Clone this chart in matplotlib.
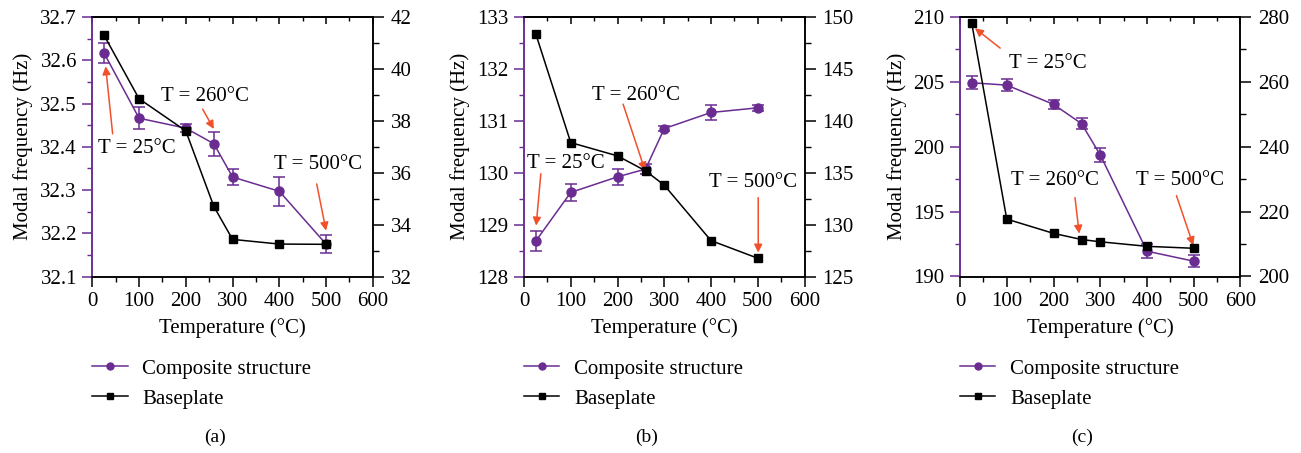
import matplotlib
matplotlib.use("Agg")
import matplotlib.pyplot as plt
from matplotlib.ticker import MultipleLocator, FormatStrFormatter
from matplotlib.lines import Line2D
import numpy as np

plt.rcParams['font.family'] = ['Liberation Serif', 'DejaVu Serif']
FS = 15
plt.rcParams['font.size'] = FS

temps = [25, 100, 200, 260, 300, 400, 500]

# Panel (a)
comp_a = [32.617, 32.466, 32.443, 32.407, 32.330, 32.297, 32.175]
comp_a_err = [0.024, 0.025, 0.010, 0.028, 0.018, 0.033, 0.021]
base_a = [41.30, 38.85, 37.61, 34.70, 33.43, 33.25, 33.24]

# Panel (b)
comp_b = [128.68, 129.62, 129.92, 130.07, 130.85, 131.16, 131.25]
comp_b_err = [0.19, 0.17, 0.15, 0.10, 0.05, 0.15, 0.06]
base_b = [148.4, 137.9, 136.62, 135.18, 133.8, 128.46, 126.76]

# Panel (c)
comp_c = [204.93, 204.75, 203.27, 201.78, 199.37, 191.95, 191.18]
comp_c_err = [0.50, 0.45, 0.36, 0.42, 0.51, 0.55, 0.48]
base_c = [278.16, 217.7, 213.3, 211.4, 210.7, 209.3, 208.7]

xticks = [0, 100, 200, 300, 400, 500, 600]
panel_labels = ['(a)', '(b)', '(c)']

PURPLE = '#6a2c91'
ARROW = '#f2502a'

panels = [
    dict(comp=comp_a, err=comp_a_err, base=base_a,
         lylim=(32.1, 32.7), lmaj=0.1, lmin=0.05, lfmt='%.1f',
         rylim=(32, 42), rmaj=2, rmin=1,
         texts=[('T = 25°C', 95, 32.395), ('T = 260°C', 240, 32.517), ('T = 500°C', 483, 32.360)],
         arrows=[((43.5, 32.430), (28.5, 32.586)), ((236, 32.487), (260, 32.441)), ((480, 32.314), (500, 32.206))]),
    dict(comp=comp_b, err=comp_b_err, base=base_b,
         lylim=(128, 133), lmaj=1, lmin=0.5, lfmt='%d',
         rylim=(125, 150), rmaj=5, rmin=2.5,
         texts=[('T = 25°C', 90, 130.17), ('T = 260°C', 240, 131.48), ('T = 500°C', 490, 129.81)],
         arrows=[((36, 129.98), (26, 128.98)), ((212, 131.32), (259, 130.04)), ((501, 129.52), (501, 128.46))]),
    dict(comp=comp_c, err=comp_c_err, base=base_c,
         lylim=(190, 210), lmaj=5, lmin=2.5, lfmt='%d',
         rylim=(200, 280), rmaj=20, rmin=10,
         texts=[('T = 25°C', 188, 206.44), ('T = 260°C', 203, 197.38), ('T = 500°C', 471, 197.38)],
         arrows=[((86, 207.6), (32, 209.13)), ((246, 196.08), (255, 193.3)), ((463, 196.23), (499, 192.4))]),
]

W, H = 1301, 453
fig = plt.figure(figsize=(W / 100, H / 100), dpi=100)

lefts = [92.3, 524, 960]
ax_w = 280.5
top_px, bot_px = 17, 276.5

for i, p in enumerate(panels):
    ax = fig.add_axes([lefts[i] / W, 1 - bot_px / H, ax_w / W, (bot_px - top_px) / H])
    ax2 = ax.twinx()

    ax.errorbar(temps, p['comp'], yerr=p['err'], color=PURPLE, marker='o',
                markersize=6.5, lw=1.1, capsize=4, capthick=1.1, elinewidth=1.1)
    ax2.plot(temps, p['base'], color='black', marker='s', markersize=5.5, lw=1.1)

    ax.set_xlim(0, 600)
    ax.set_ylim(*p['lylim'])
    ax2.set_ylim(*p['rylim'])
    ax.set_xticks(xticks)
    ax.xaxis.set_minor_locator(MultipleLocator(50))
    ax.yaxis.set_major_locator(MultipleLocator(p['lmaj']))
    ax.yaxis.set_minor_locator(MultipleLocator(p['lmin']))
    ax.yaxis.set_major_formatter(FormatStrFormatter(p['lfmt']))
    ax2.yaxis.set_major_locator(MultipleLocator(p['rmaj']))
    ax2.yaxis.set_minor_locator(MultipleLocator(p['rmin']))

    ax.tick_params(axis='x', which='major', direction='out', length=7, width=1.1, pad=4)
    ax.tick_params(axis='x', which='minor', direction='out', length=3.5, width=1.0)
    ax.tick_params(axis='y', which='major', direction='out', length=7, width=1.1, color=PURPLE, pad=4)
    ax.tick_params(axis='y', which='minor', direction='out', length=3.5, width=1.0, color=PURPLE)
    ax2.tick_params(axis='y', which='major', direction='out', length=8, width=1.1, pad=5)
    ax2.tick_params(axis='y', which='minor', direction='out', length=4, width=1.0)

    sec = ax.secondary_xaxis('top')
    sec.set_xticks(xticks)
    sec.xaxis.set_minor_locator(MultipleLocator(50))
    sec.tick_params(axis='x', which='major', direction='in', length=5, width=1.1, labeltop=False)
    sec.tick_params(axis='x', which='minor', direction='in', length=3, width=1.0)
    sec.spines['top'].set_linewidth(1.1)

    ax.spines['left'].set_color(PURPLE)
    ax2.spines['left'].set_color(PURPLE)
    for a in (ax, ax2):
        for s in a.spines.values():
            s.set_linewidth(1.1)

    ax.set_xlabel('Temperature (°C)', labelpad=5)
    ax.set_ylabel('Modal frequency (Hz)', labelpad=5)

    for (t, x, y) in p['texts']:
        ax.text(x, y, t, ha='center', va='center', fontsize=FS, zorder=10)
    for (start, end) in p['arrows']:
        ax.annotate('', xy=end, xytext=start, xycoords='data', textcoords='data',
                    arrowprops=dict(arrowstyle='-|>', color=ARROW, lw=1.1,
                                    mutation_scale=12, shrinkA=0, shrinkB=0),
                    zorder=10)

    h1 = Line2D([], [], color=PURPLE, marker='o', markersize=5, lw=1.1)
    h2 = Line2D([], [], color='black', marker='s', markersize=4.5, lw=1.1)
    fig.legend(handles=[h1, h2], labels=['Composite structure', 'Baseplate'],
               loc='upper left', bbox_to_anchor=(lefts[i] / W, 1 - 359 / H),
               frameon=False, handlelength=1.7, handletextpad=0.7, labelspacing=0.5,
               borderaxespad=0, borderpad=0, fontsize=FS)

    fig.text((lefts[i] + ax_w / 2 - 18) / W, 1 - 437 / H, panel_labels[i],
             ha='center', va='center', fontsize=14)

fig.savefig('out.png', dpi=100)
